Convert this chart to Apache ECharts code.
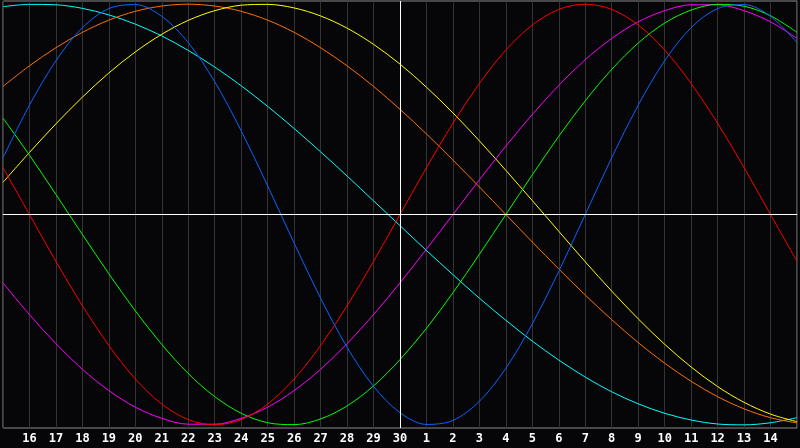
<!DOCTYPE html>
<html>
<head>
<meta charset="utf-8">
<style>
html,body{margin:0;padding:0;background:#060609;}
#chart{width:800px;height:448px;}
</style>
<script src="https://cdn.jsdelivr.net/npm/echarts@6/dist/echarts.min.js"></script>
</head>
<body>
<div id="chart"></div>
<script>
// day labels along the bottom (first and last are the hidden edge days)
const days = ['15','16','17','18','19','20','21','22','23','24','25','26','27','28','29','30',
              '1','2','3','4','5','6','7','8','9','10','11','12','13','14','15'];

// curve values read at each day gridline
const blueVals = [0.270,0.520,0.731,0.888,0.979,0.998,0.942,0.817,0.631,0.398,0.136,-0.136,-0.398,-0.631,-0.817,-0.942,
                  -0.998,-0.979,-0.888,-0.731,-0.520,-0.270,0.000,0.270,0.520,0.731,0.888,0.979,0.998,0.942,0.817];
const redVals = [0.223,0.000,-0.223,-0.434,-0.623,-0.782,-0.901,-0.975,-1.000,-0.975,-0.901,-0.782,-0.623,-0.434,-0.223,0.000,
                 0.223,0.434,0.623,0.782,0.901,0.975,1.000,0.975,0.901,0.782,0.623,0.434,0.223,0.000,-0.223];
const greenVals = [0.458,0.282,0.095,-0.095,-0.282,-0.458,-0.618,-0.756,-0.866,-0.945,-0.990,-0.999,-0.972,-0.910,-0.815,-0.690,
                   -0.541,-0.372,-0.189,0.000,0.189,0.372,0.541,0.690,0.815,0.910,0.972,0.999,0.990,0.945,0.866];
const magentaVals = [-0.325,-0.476,-0.614,-0.736,-0.837,-0.916,-0.969,-0.997,-0.997,-0.969,-0.916,-0.837,-0.736,-0.614,-0.476,-0.325,
                     -0.165,0.000,0.165,0.325,0.476,0.614,0.736,0.837,0.916,0.969,0.997,0.997,0.969,0.916,0.837];
const yellowVals = [0.153,0.295,0.431,0.558,0.673,0.773,0.857,0.923,0.969,0.995,0.999,0.982,0.944,0.886,0.809,0.715,
                    0.605,0.483,0.350,0.210,0.066,-0.080,-0.225,-0.364,-0.496,-0.617,-0.725,-0.818,-0.893,-0.949,-0.985];
const orangeVals = [0.609,0.707,0.793,0.866,0.924,0.966,0.991,1.000,0.991,0.966,0.924,0.866,0.793,0.707,0.609,0.500,
                    0.383,0.259,0.131,0.000,-0.131,-0.259,-0.383,-0.500,-0.609,-0.707,-0.793,-0.866,-0.924,-0.966,-0.991];
const cyanVals = [0.988,0.999,0.997,0.980,0.949,0.905,0.849,0.780,0.701,0.612,0.514,0.409,0.298,0.183,0.065,-0.053,
                  -0.171,-0.286,-0.398,-0.503,-0.602,-0.692,-0.773,-0.843,-0.900,-0.945,-0.977,-0.996,-1.000,-0.990,-0.966];

const curves = [
  {name:'cyan', data:cyanVals, color:'#00ffff'},
  {name:'orange', data:orangeVals, color:'#ff7000'},
  {name:'yellow', data:yellowVals, color:'#ffff00'},
  {name:'magenta', data:magentaVals, color:'#ff00ff'},
  {name:'green', data:greenVals, color:'#00ff00'},
  {name:'red', data:redVals, color:'#ff0000'},
  {name:'blue', data:blueVals, color:'#0a64ff'}
];

const chart = echarts.init(document.getElementById('chart'), null, {renderer:'canvas'});
const series = curves.map(c => ({
  name: c.name,
  type: 'line',
  data: c.data,
  smooth: 0.33,
  showSymbol: false,
  symbol: 'none',
  lineStyle: {color: c.color, width: 1},
  itemStyle: {color: c.color},
  z: 3
}));
series.push({
  type: 'line',
  data: [],
  z: 2,
  markLine: {
    silent: true,
    symbol: 'none',
    animation: false,
    label: {show: false},
    lineStyle: {color: '#ffffff', width: 1, type: 'solid'},
    data: [{xAxis: 15}, {yAxis: 0}]
  }
});

chart.setOption({
  backgroundColor: '#060609',
  animation: false,
  grid: {left: 0, right: 1, top: 1, bottom: 20, show: true, borderColor: '#8a8a8a', borderWidth: 1, backgroundColor: 'transparent'},
  xAxis: {
    type: 'category',
    data: days,
    boundaryGap: false,
    axisLine: {show: true, lineStyle: {color: '#8a8a8a', width: 1}},
    axisTick: {show: false},
    axisLabel: {
      interval: 0,
      color: '#ffffff',
      fontWeight: 'bold',
      fontSize: 12,
      fontFamily: 'DejaVu Sans Mono',
      margin: 5,
      formatter: function (v, i) { return (i === 0 || i === days.length - 1) ? '' : v; }
    },
    splitLine: {show: true, interval: 0, lineStyle: {color: '#333333', width: 1}}
  },
  yAxis: {
    type: 'value',
    min: -1.015,
    max: 1.015,
    show: false,
    splitLine: {show: false}
  },
  series: series
});
</script>
</body>
</html>
